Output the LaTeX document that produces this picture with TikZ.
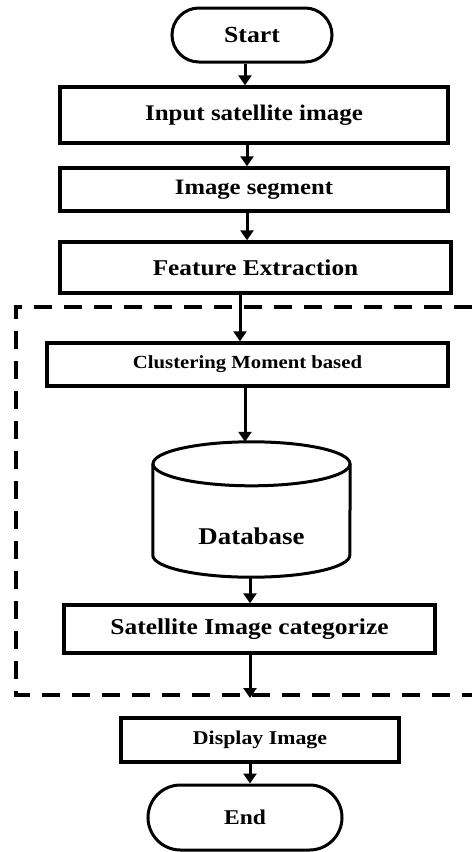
\documentclass[tikz,border=0pt]{standalone}
\usepackage{fontspec}
\setmainfont{Liberation Serif}[FakeStretch=1.12]
\usetikzlibrary{positioning,shapes.misc,arrows.meta}

\begin{document}
\begin{tikzpicture}[
    x=1pt, y=-1pt,
    >={Triangle[length=10pt,width=13pt]},
    term/.style={
        draw=black,
        rounded rectangle,
        line width=3pt,
        inner sep=0pt,
        align=center
    },
    box/.style={
        draw=black,
        line width=3.4pt,
        inner sep=0pt,
        align=center
    },
    dbline/.style={draw=black, line width=3pt},
    arr/.style={->, line width=3pt},
    group/.style={draw=black, line width=3.2pt, dash pattern=on 18pt off 12pt}
]

\useasboundingbox (0,0) rectangle (472,852);

\node[term, minimum width=160pt, minimum height=54pt,
      font=\fontsize{23}{26}\selectfont\bfseries] (start) at (252,35) {Start};

\node[box, minimum width=388pt, minimum height=56pt,
      font=\fontsize{22.3}{25}\selectfont\bfseries] (input) at (254,115) {Input satellite image};

\node[box, minimum width=388pt, minimum height=43pt,
      font=\fontsize{22}{25}\selectfont\bfseries] (segment) at (254,189.5) {Image segment};

\node[box, minimum width=391pt, minimum height=51pt,
      font=\fontsize{22.6}{25}\selectfont\bfseries] (feature) at (255.5,267.5) {Feature Extraction};

\node[box, minimum width=401pt, minimum height=43pt,
      font=\fontsize{18.5}{21}\selectfont\bfseries] (cluster) at (247.5,364.5) {Clustering Moment based};

% database drawn as a cylinder round the node
\node[minimum width=197pt, minimum height=135pt, inner sep=0pt,
      font=\fontsize{24}{27}\selectfont\bfseries] (db) at (251.5,509.5)
      {\raisebox{-35pt}[0pt][0pt]{Database}};
\draw[dbline] ([yshift=-22pt]db.north) ellipse[x radius=98.5pt, y radius=22pt];
\draw[dbline] ([yshift=-22pt]db.north west) -- ([yshift=22pt]db.south west)
    arc[start angle=180, end angle=360, x radius=98.5pt, y radius=22pt]
    -- ([yshift=-22pt]db.north east);

\node[box, minimum width=371pt, minimum height=48pt,
      font=\fontsize{22.7}{25}\selectfont\bfseries] (categ) at (249.5,629) {Satellite Image categorize};

\node[box, minimum width=278pt, minimum height=44pt,
      font=\fontsize{19.5}{22}\selectfont\bfseries] (display) at (260,740) {Display Image};

\node[term, minimum width=194pt, minimum height=65pt,
      font=\fontsize{21}{24}\selectfont\bfseries] (end) at (245,817.5) {End};

% dashed group round the middle steps
\draw[group] (472,307) -- (16,307) -- (16,695) -- (472,695);
\coordinate (exit) at (250,698);

\draw[arr] (245,0 |- start.south) -- (245,0 |- input.north);
\draw[arr] (247,0 |- input.south) -- (247,0 |- segment.north);
\draw[arr] (247,0 |- segment.south) -- (247,0 |- feature.north);
\draw[arr] (240,0 |- feature.south) -- (240,0 |- cluster.north);
\draw[arr] (245,0 |- cluster.south) -- (245,0 |- db.north);
\draw[arr] (250,0 |- db.south) -- (250,0 |- categ.north);
\draw[arr] (250,0 |- categ.south) -- (exit);
\draw[arr] (250,0 |- display.south) -- (250,0 |- end.north);

\end{tikzpicture}
\end{document}
